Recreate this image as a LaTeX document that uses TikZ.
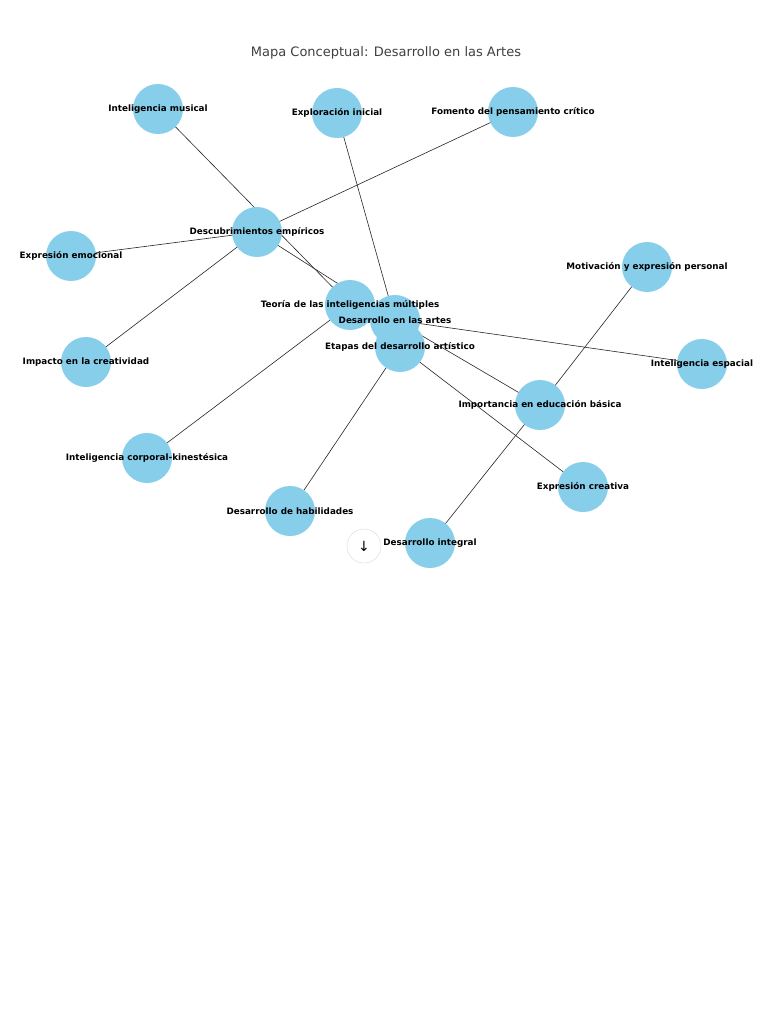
\documentclass[tikz,border=0pt]{standalone}
\usepackage{fontspec}
\setmainfont{DejaVu Sans}
\begin{document}
\begin{tikzpicture}[x=1pt,y=-1pt,
  nd/.style={circle,fill=skyblue,minimum size=50pt,inner sep=0pt},
  lb/.style={font=\bfseries\fontsize{8.8}{10}\selectfont,text=black},
  ed/.style={draw=black!85,line width=0.6pt}]
\definecolor{skyblue}{HTML}{87CEEB}
\useasboundingbox (0,0) rectangle (768,1024);
\fill[white] (0,0) rectangle (768,1024);
\node[font=\fontsize{13}{15}\selectfont,text=black!75] at (386,53) {Mapa Conceptual: Desarrollo en las Artes};
\coordinate (mus) at (158,109);
\coordinate (exp) at (337,113);
\coordinate (fom) at (513,112);
\coordinate (des) at (257,232);
\coordinate (emo) at (71,256);
\coordinate (mot) at (647,267);
\coordinate (teo) at (350,305);
\coordinate (art) at (395,320);
\coordinate (eta) at (400,347);
\coordinate (imp) at (86,362);
\coordinate (esp) at (702,364);
\coordinate (edu) at (540,405);
\coordinate (cor) at (147,458);
\coordinate (cre) at (583,487);
\coordinate (hab) at (290,511);
\coordinate (int) at (430,543);
\draw[ed] (mus)--(teo); \draw[ed] (exp)--(art); \draw[ed] (fom)--(des);
\draw[ed] (emo)--(des); \draw[ed] (imp)--(des); \draw[ed] (des)--(art);
\draw[ed] (teo)--(cor); \draw[ed] (teo)--(art); \draw[ed] (art)--(esp);
\draw[ed] (art)--(edu); \draw[ed] (art)--(eta); \draw[ed] (edu)--(mot);
\draw[ed] (edu)--(int); \draw[ed] (eta)--(cre); \draw[ed] (eta)--(hab);
\foreach \c in {mus,exp,fom,des,emo,mot,teo,art,eta,imp,esp,edu,cor,cre,hab,int}
  \node[nd] (n\c) at (\c) {};
\node[lb] (tmus) at (mus) {Inteligencia musical};
\node[lb] (texp) at (exp) {Exploración inicial};
\node[lb] (tfom) at (fom) {Fomento del pensamiento crítico};
\node[lb] (tdes) at (des) {Descubrimientos empíricos};
\node[lb] (temo) at (emo) {Expresión emocional};
\node[lb] (tmot) at (mot) {Motivación y expresión personal};
\node[lb] (tteo) at (teo) {Teoría de las inteligencias múltiples};
\node[lb] (tart) at (art) {Desarrollo en las artes};
\node[lb] (teta) at (eta) {Etapas del desarrollo artístico};
\node[lb] (timp) at (imp) {Impacto en la creatividad};
\node[lb] (tesp) at (esp) {Inteligencia espacial};
\node[lb] (tedu) at (edu) {Importancia en educación básica};
\node[lb] (tcor) at (cor) {Inteligencia corporal-kinestésica};
\node[lb] (tcre) at (cre) {Expresión creativa};
\node[lb] (thab) at (hab) {Desarrollo de habilidades};
\node[lb] (tint) at (int) {Desarrollo integral};
\node[circle,draw=black!15,fill=white,minimum size=34pt,font=\fontsize{14}{14}\selectfont] (btn) at (364,546) {↓};
\end{tikzpicture}
\end{document}
